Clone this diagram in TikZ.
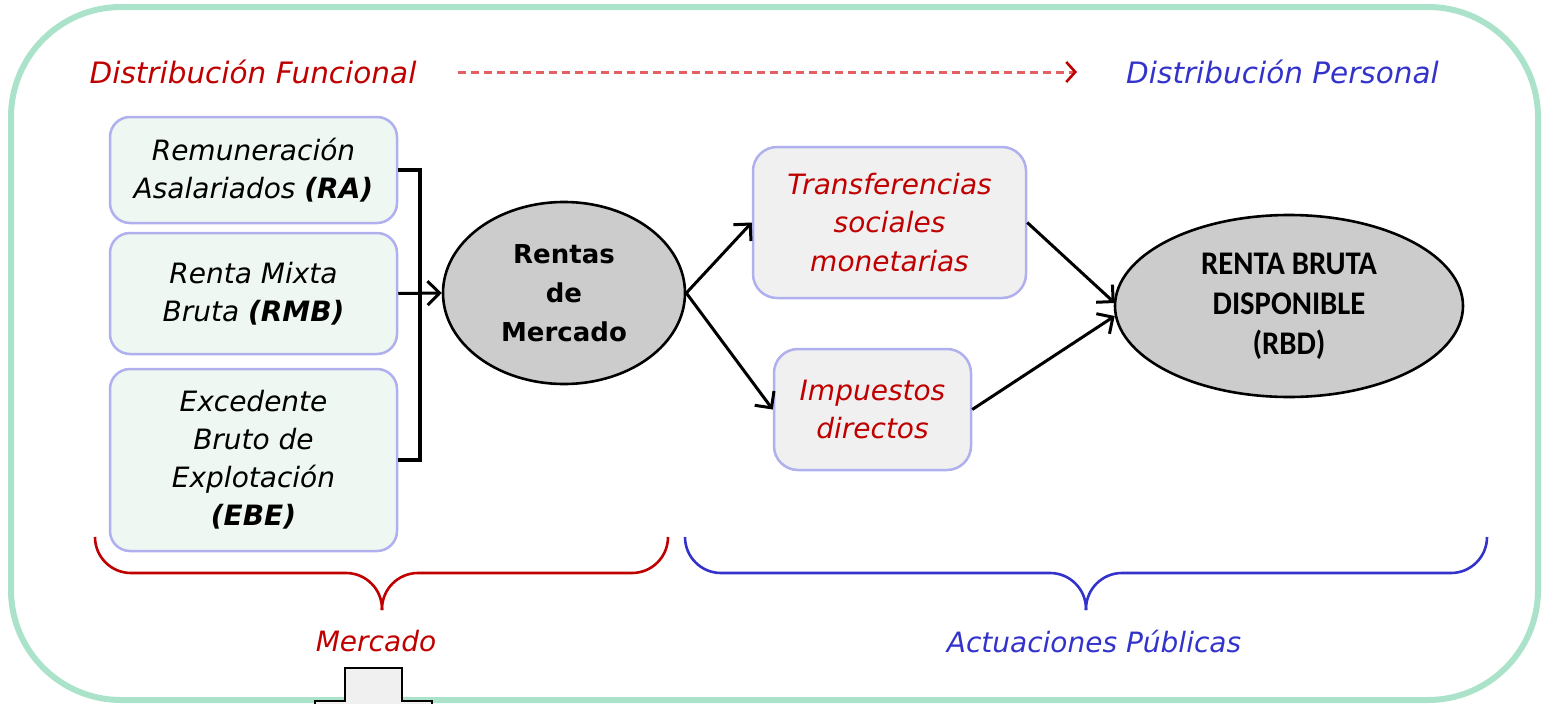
\documentclass[tikz,border=0pt]{standalone}
\usepackage{fontspec}
\setmainfont{DejaVu Sans}
\newfontfamily\rbdfont{Carlito}[FakeStretch=0.93]
\usetikzlibrary{arrows.meta,calc,shapes.geometric}
\definecolor{framegreen}{RGB}{170,227,201}
\definecolor{lboxfill}{RGB}{238,247,241}
\definecolor{boxborder}{RGB}{176,176,238}
\definecolor{gboxfill}{RGB}{240,240,240}
\definecolor{ellfill}{RGB}{204,204,204}
\definecolor{myred}{RGB}{192,0,0}
\definecolor{dashred}{RGB}{226,96,100}
\definecolor{myblue}{RGB}{51,51,204}
\tikzset{
  txt/.style={font=\fontsize{28}{38}\selectfont\itshape, align=center, inner sep=0pt},
  toptxt/.style={font=\fontsize{29.5}{38}\selectfont\itshape, align=center, inner sep=0pt},
  lbox/.style={draw=boxborder, line width=2.5pt, fill=lboxfill, rounded corners=20pt, align=center, font=\fontsize{28}{38}\selectfont\itshape, inner sep=0pt},
  gbox/.style={draw=boxborder, line width=2.5pt, fill=gboxfill, rounded corners=24pt, align=center, font=\fontsize{28}{38.5}\selectfont\itshape, text=myred, inner sep=0pt},
  ell/.style={ellipse, draw=black, line width=2.6pt, fill=ellfill, align=center, inner sep=0pt},
  conn/.style={line width=3pt, -{Straight Barb[length=12pt,width=24pt,line width=3pt]}},
  brk/.style={line width=3.2pt},
  bracered/.style={draw=myred, line width=2.6pt, rounded corners=36pt},
  braceblue/.style={draw=myblue, line width=2.6pt, rounded corners=36pt}
}
\begin{document}
\begin{tikzpicture}[x=1pt,y=-1pt]
\useasboundingbox (0,0) rectangle (1548,704);
% outer frame
\draw[framegreen, line width=6pt, rounded corners=110pt] (11,7) rectangle (1538,700);
% top labels
\node[toptxt, text=myred] (df) at (253,72) {Distribución Funcional};
\node[toptxt, text=myblue] (dp) at (1282.5,72) {Distribución Personal};
\draw[dashred, line width=3pt, dash pattern=on 8pt off 5pt, -{Straight Barb[length=9pt,width=20pt,line width=2.6pt,color=myred]}] ([xshift=41pt]df.east) -- ([xshift=-49pt]dp.west);
% left boxes
\node[lbox, minimum width=287pt, minimum height=106pt] (ra) at (253.5,170) {Remuneración\\Asalariados \textbf{(RA)}};
\node[lbox, minimum width=287pt, minimum height=121pt] (rmb) at (253.5,293.5) {Renta Mixta\\Bruta \textbf{(RMB)}};
\node[lbox, minimum width=287pt, minimum height=182pt] (ebe) at (253.5,460) {Excedente\\Bruto de\\Explotación\\\textbf{(EBE)}};
% ellipses
\node[ell, minimum width=242pt, minimum height=182pt, font=\fontsize{26}{39}\selectfont\bfseries] (rm) at (564,293) {Rentas\\de\\Mercado};
\node[ell, minimum width=348pt, minimum height=182pt, font=\rbdfont\fontsize{33}{40}\selectfont\bfseries] (rbd) at (1289,306) {RENTA BRUTA\\DISPONIBLE\\(RBD)};
% middle boxes
\node[gbox, minimum width=273pt, minimum height=151pt] (tr) at (889.5,222.5) {Transferencias\\sociales\\monetarias};
\node[gbox, minimum width=197pt, minimum height=121pt] (imp) at (872.5,409.5) {Impuestos\\directos};
% bracket
\coordinate (bk) at (420,293);
\draw[brk] (ra.east) -- (ra.east -| bk) -- (ebe.east -| bk) -- (ebe.east);
\draw[conn] (rmb.east) -- (rm.west);
% connectors
\draw[conn] (rm.east) -- (tr.west);
\draw[conn] (rm.east) -- (imp.west);
\draw[conn] (tr.east) -- ($(rbd.west)+(1,-3)$);
\draw[conn] (imp.east) -- ($(rbd.west)+(1,10)$);
% braces
\draw[bracered] (95,537) -- (95,573) -- (382,573) -- (382,610);
\draw[bracered] (668,537) -- (668,573) -- (382,573) -- (382,610);
\draw[braceblue] (685,537) -- (685,573) -- (1086,573) -- (1086,610);
\draw[braceblue] (1487,537) -- (1487,573) -- (1086,573) -- (1086,610);
\node[txt, text=myred] (mk) at (376,641) {Mercado};
\node[txt, text=myblue] (ap) at (1094,641) {Actuaciones Públicas};
% bottom block arrow (cut off)
\begin{scope}
\clip (0,0) rectangle (1548,704);
\draw[fill=gboxfill, line width=2.6pt] (315,715) -- (315,701) -- (345,701) -- (345,668) -- (402,668) -- (402,701) -- (432,701) -- (432,715);
\end{scope}
\end{tikzpicture}
\end{document}
